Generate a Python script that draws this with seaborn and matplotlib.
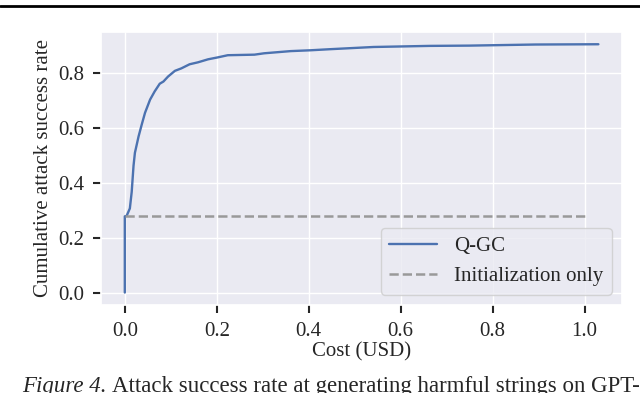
import numpy as np
import pandas as pd
import matplotlib
matplotlib.use("Agg")
import matplotlib.pyplot as plt
from matplotlib.lines import Line2D
import seaborn as sns

# values
cost = [0.0, 0.0, 0.004, 0.011, 0.015, 0.019, 0.022, 0.030, 0.037, 0.044,
        0.055, 0.065, 0.076, 0.084, 0.094, 0.109, 0.123, 0.141, 0.159,
        0.181, 0.202, 0.224, 0.282, 0.303, 0.361, 0.404, 0.447, 0.541,
        0.663, 0.749, 0.893, 1.030]
asr = [0.0, 0.278, 0.280, 0.307, 0.367, 0.463, 0.510, 0.570, 0.614, 0.656,
       0.704, 0.734, 0.762, 0.770, 0.788, 0.809, 0.818, 0.833, 0.840,
       0.851, 0.858, 0.866, 0.868, 0.873, 0.881, 0.884, 0.888, 0.896,
       0.900, 0.901, 0.905, 0.906]
init_cost = [0.0, 1.0]
init_asr = [0.279, 0.279]

sns.set_theme(style="darkgrid")
plt.rcParams['font.family'] = ['Liberation Serif', 'DejaVu Serif']
plt.rcParams['font.size'] = 15

fig = plt.figure(figsize=(6.4, 3.93), dpi=100)
ax = fig.add_axes([0.158, 0.224, 0.814, 0.695])

df = pd.DataFrame({'cost': cost, 'asr': asr})
sns.lineplot(data=df, x='cost', y='asr', ax=ax, estimator=None, sort=False,
             color='#4c72b0', linewidth=1.7, label='Q-GC')
sns.lineplot(x=init_cost, y=init_asr, ax=ax, estimator=None, sort=False,
             color='0.6', linewidth=1.8, linestyle='--',
             label='Initialization only')

ax.set_xticks([0.0, 0.2, 0.4, 0.6, 0.8, 1.0])
ax.set_yticks([0.0, 0.2, 0.4, 0.6, 0.8])
ax.tick_params(axis='both', which='major', bottom=True, left=True,
               direction='out', length=6, width=1.5, color='#262626',
               labelsize=15, labelcolor='#262626')
ax.tick_params(axis='x', pad=6)
ax.tick_params(axis='y', pad=6)
# make sure the tick marks are really drawn
for t in ax.xaxis.get_major_ticks() + ax.yaxis.get_major_ticks():
    t.tick1line.set_markeredgewidth(1.5)
    t.tick1line.set_markeredgecolor('#262626')
    t.tick1line.set_alpha(1)
ax.set_xlabel('Cost (USD)', fontsize=15, labelpad=1)
ax.set_ylabel('Cumulative attack success rate', fontsize=15, labelpad=4)
ax.legend(loc='lower right', fontsize=15, handlelength=2.3)

# rule above and caption below, as in the paper crop
fig.add_artist(Line2D([0, 1], [1 - 5.5 / 393, 1 - 5.5 / 393],
                      transform=fig.transFigure, color='black', linewidth=2))
t1 = fig.text(22 / 640, 1.0 / 393, 'Figure 4.', fontsize=16.5, style='italic',
              va='baseline', ha='left')
fig.canvas.draw()
bb = t1.get_window_extent()
x2 = (bb.x1 + 6) / fig.bbox.width
fig.text(x2, 1.0 / 393,
         'Attack success rate at generating harmful strings on GPT-',
         fontsize=16.5, va='baseline', ha='left')

fig.savefig('out.png', dpi=100)
